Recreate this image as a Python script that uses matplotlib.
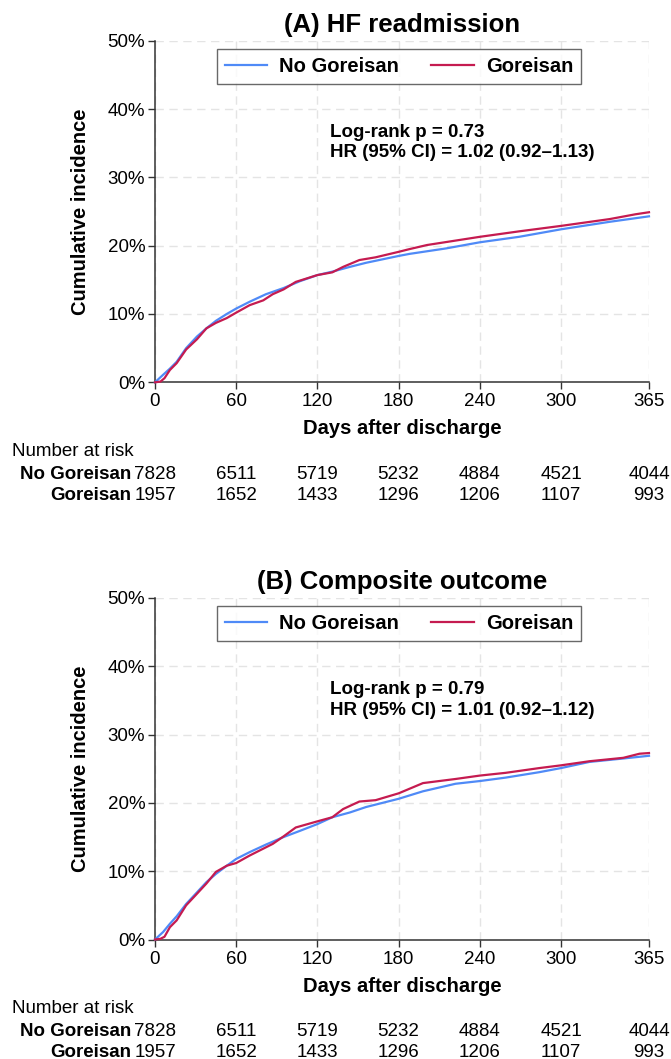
import matplotlib
matplotlib.use("Agg")
import matplotlib.pyplot as plt
from matplotlib.ticker import FuncFormatter

plt.rcParams["font.family"] = ["Liberation Sans", "DejaVu Sans"]

# cumulative incidence (%)
a_no_days = [0, 6, 11, 16, 23, 31, 38, 45, 53, 60, 70, 82, 95, 107, 120, 131, 144, 156, 168, 180, 188, 215, 240, 269, 300, 336, 365]
a_no_inc = [0, 1.1, 2.0, 3.0, 5.0, 6.7, 7.9, 9.0, 10.0, 10.8, 11.8, 12.9, 13.8, 14.8, 15.7, 16.2, 16.9, 17.5, 18.0, 18.5, 18.8, 19.6, 20.5, 21.3, 22.4, 23.5, 24.3]
a_go_days = [0, 4, 7, 11, 16, 23, 31, 38, 45, 53, 60, 70, 80, 87, 95, 104, 120, 131, 139, 151, 163, 180, 188, 201, 240, 269, 300, 336, 355, 365]
a_go_inc = [0, 0.1, 0.6, 1.8, 2.8, 4.8, 6.3, 7.9, 8.7, 9.4, 10.2, 11.3, 12.0, 12.9, 13.6, 14.7, 15.7, 16.1, 16.9, 17.9, 18.3, 19.1, 19.5, 20.1, 21.3, 22.1, 22.9, 23.9, 24.6, 24.9]

b_no_days = [0, 6, 11, 16, 23, 31, 38, 45, 53, 60, 70, 82, 95, 107, 120, 131, 144, 156, 168, 180, 198, 222, 240, 259, 284, 300, 321, 346, 365]
b_no_inc = [0, 1.1, 2.3, 3.4, 5.2, 6.9, 8.4, 9.6, 10.8, 11.8, 12.8, 13.9, 15.0, 15.9, 16.9, 17.9, 18.6, 19.4, 20.0, 20.6, 21.7, 22.8, 23.2, 23.7, 24.5, 25.1, 26.0, 26.5, 26.9]
b_go_days = [0, 4, 7, 11, 16, 23, 31, 38, 45, 53, 60, 70, 80, 87, 95, 104, 120, 131, 139, 151, 163, 180, 198, 222, 240, 259, 284, 300, 321, 346, 358, 365]
b_go_inc = [0, 0.1, 0.4, 1.8, 2.8, 5.0, 6.7, 8.2, 9.9, 10.8, 11.2, 12.3, 13.3, 14.0, 15.1, 16.4, 17.3, 17.9, 19.1, 20.2, 20.4, 21.4, 22.9, 23.5, 24.0, 24.4, 25.1, 25.5, 26.1, 26.6, 27.2, 27.3]

x_ticks = [0, 60, 120, 180, 240, 300, 365]
y_ticks = [0, 10, 20, 30, 40, 50]
groups = ["No Goreisan", "Goreisan"]
risk_no = [7828, 6511, 5719, 5232, 4884, 4521, 4044]
risk_go = [1957, 1652, 1433, 1296, 1206, 1107, 993]

titles = ["(A) HF readmission", "(B) Composite outcome"]
stats = [["Log-rank p = 0.73", "HR (95% CI) = 1.02 (0.92\u20131.13)"],
         ["Log-rank p = 0.79", "HR (95% CI) = 1.01 (0.92\u20131.12)"]]

blue = "#4f8af7"
red = "#c51b50"

W, H = 671, 1059
fig = plt.figure(figsize=(W / 100, H / 100), dpi=100)

panels = [
    (a_no_days, a_no_inc, a_go_days, a_go_inc, 40.8),
    (b_no_days, b_no_inc, b_go_days, b_go_inc, 598.0),
]

ax_left, ax_right = 155, 649
ax_h = 341.5

for i, (nd, ni, gd, gi, top) in enumerate(panels):
    bottom = top + ax_h
    ax = fig.add_axes([ax_left / W, 1 - bottom / H, (ax_right - ax_left) / W, ax_h / H])
    ax.set_xlim(0, 365)
    ax.set_ylim(0, 50)
    ax.set_xticks(x_ticks)
    ax.set_yticks(y_ticks)
    ax.yaxis.set_major_formatter(FuncFormatter(lambda v, p: f"{v:.0f}%"))
    ax.grid(True, color="#e4e4e4", linestyle=(0, (6, 4)), linewidth=1.0)
    ax.set_axisbelow(True)
    for s in ["top", "right"]:
        ax.spines[s].set_visible(False)
    for s in ["left", "bottom"]:
        ax.spines[s].set_color("#333333")
        ax.spines[s].set_linewidth(1.1)
    ax.tick_params(direction="out", length=5, width=1.0, color="#333333",
                   labelsize=13.5, pad=2)
    ax.tick_params(axis="x", pad=3)

    ax.plot(nd, ni, color=blue, lw=1.6, label=groups[0], clip_on=False, zorder=3)
    ax.plot(gd, gi, color=red, lw=1.6, label=groups[1], clip_on=False, zorder=4)

    leg = ax.legend(loc="upper center", bbox_to_anchor=(0.494, 0.976), ncol=2,
                    frameon=True, fancybox=False, edgecolor="#444444",
                    prop={"weight": "bold", "size": 14.5}, handlelength=2.1,
                    handletextpad=0.6, columnspacing=1.6, borderaxespad=0,
                    borderpad=0.4)
    leg.get_frame().set_linewidth(1.0)

    ax.text(0.5, 1 + 16 / ax_h, titles[i], transform=ax.transAxes,
            ha="center", va="center", fontsize=18.5, fontweight="bold")
    ax.set_xlabel("Days after discharge", fontsize=14.5, fontweight="bold", va="center")
    ax.xaxis.set_label_coords(0.5, -46.7 / ax_h)
    ax.set_ylabel("Cumulative incidence", fontsize=14.5, fontweight="bold", va="center")
    ax.yaxis.set_label_coords((81 - ax_left) / (ax_right - ax_left), 0.5)

    ax.text(129, 36.6, stats[i][0], fontsize=13.5, fontweight="bold", va="center")
    ax.text(129, 33.6, stats[i][1], fontsize=13.5, fontweight="bold", va="center")

    # number at risk table
    fig.text(12 / W, 1 - (bottom + 69) / H, "Number at risk", fontsize=13.5,
             ha="left", va="center")
    for r, (name, counts) in enumerate([(groups[0], risk_no), (groups[1], risk_go)]):
        y_px = bottom + 92 + r * 21
        fig.text(131 / W, 1 - y_px / H, name, fontsize=13.5, fontweight="bold",
                 ha="right", va="center")
        for d, c in zip(x_ticks, counts):
            xp = ax_left + d / 365 * (ax_right - ax_left)
            fig.text(xp / W, 1 - y_px / H, str(c), fontsize=13.5,
                     ha="center", va="center")

fig.savefig("out.png", dpi=100)
